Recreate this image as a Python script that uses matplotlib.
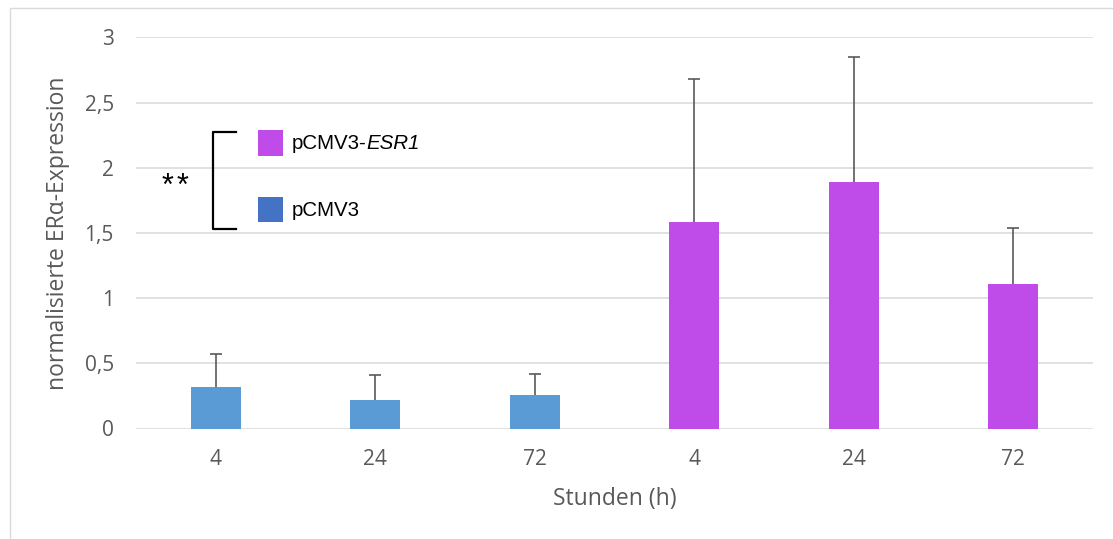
import matplotlib
matplotlib.use("Agg")
import matplotlib.pyplot as plt
from matplotlib.patches import Rectangle
from matplotlib.lines import Line2D

# Data
categories = ["4", "24", "72", "4", "24", "72"]
values = [0.32, 0.22, 0.26, 1.58, 1.89, 1.11]
errors = [0.25, 0.19, 0.16, 1.10, 0.96, 0.43]
groups = ["pCMV3", "pCMV3", "pCMV3", "pCMV3-ESR1", "pCMV3-ESR1", "pCMV3-ESR1"]
y_ticks = [0, 0.5, 1, 1.5, 2, 2.5, 3]
y_tick_labels = ["0", "0,5", "1", "1,5", "2", "2,5", "3"]

bar_colors = {"pCMV3": "#5B9BD5", "pCMV3-ESR1": "#BF4BE9"}
legend_colors = {"pCMV3": "#4472C4", "pCMV3-ESR1": "#BF4BE9"}
text_gray = "#595959"
grid_gray = "#D9D9D9"

W, H = 1113, 539
fig = plt.figure(figsize=(W / 100, H / 100), dpi=100)


def px(x, y):
    """Pixel position (from top-left) to figure fraction."""
    return x / W, 1 - y / H


AX_L, AX_R, AX_T, AX_B = 136, 1093, 37.3, 428.5
left, top = px(AX_L, AX_T)
right, bottom = px(AX_R, AX_B)
ax = fig.add_axes([left, bottom, right - left, top - bottom])

xs = list(range(len(values)))
ax.bar(xs, values, width=0.314, color=[bar_colors[g] for g in groups], zorder=3)
_, caps, _ = ax.errorbar(xs, values, yerr=[[0] * len(errors), errors], fmt="none",
                         ecolor="#5A5A5A", elinewidth=1.2, capsize=4.3, capthick=1.2,
                         zorder=4)
# only the upper caps are shown
caps[0].set_visible(False)

ax.set_xlim(-0.5, len(values) - 0.5)
ax.set_ylim(0, 3)
ax.set_yticks(y_ticks)
ax.set_yticklabels(y_tick_labels)
ax.set_xticks(xs)
ax.set_xticklabels(categories)
ax.yaxis.grid(True, color=grid_gray, linewidth=1.1, zorder=0)
ax.set_axisbelow(True)
for s in ax.spines.values():
    s.set_visible(False)
ax.tick_params(length=0, colors=text_gray, labelsize=15)
ax.tick_params(axis="y", pad=16)
ax.tick_params(axis="x", pad=15)
for lab in ax.get_xticklabels() + ax.get_yticklabels():
    lab.set_fontfamily("Open Sans")

ax_w, ax_h = AX_R - AX_L, AX_B - AX_T
ax.set_xlabel("Stunden (h)", fontsize=16.5, color=text_gray, family="Open Sans")
ax.xaxis.set_label_coords(0.5, -(487 - AX_B) / ax_h)
ax.set_ylabel("normalisierte ERα-Expression", fontsize=16.5, color=text_gray,
              family="Open Sans")
ax.yaxis.set_label_coords((70 - AX_L) / ax_w, 0.5)

# Outer chart frame
fig.patches.append(Rectangle(px(10, 560), 1.2, (560 - 8) / H, transform=fig.transFigure,
                             fill=False, edgecolor=grid_gray, linewidth=1.0, clip_on=False))

# Legend entries
for name, ycen in [("pCMV3-ESR1", 143), ("pCMV3", 210)]:
    x0, y0 = px(257.5, ycen + 12.5)
    fig.patches.append(Rectangle((x0, y0), 25 / W, 25 / H, transform=fig.transFigure,
                                 facecolor=legend_colors[name], edgecolor="none"))

fig.canvas.draw()
renderer = fig.canvas.get_renderer()
t1 = fig.text(*px(292, 149), "pCMV3-", fontsize=14.8, family="Liberation Sans",
              color="black", va="baseline")
bb = t1.get_window_extent(renderer)
fig.text(bb.x1 / W, 1 - 149 / H, "ESR1", fontsize=14.8, family="Liberation Sans",
         style="italic", color="black", va="baseline")
fig.text(*px(292, 216), "pCMV3", fontsize=14.8, family="Liberation Sans",
         color="black", va="baseline")

# Significance bracket with its two stars
bx = [236 / W, 213 / W, 213 / W, 236 / W]
by = [1 - 132 / H, 1 - 132 / H, 1 - 229 / H, 1 - 229 / H]
fig.lines.append(Line2D(bx, by, transform=fig.transFigure, color="black", linewidth=1.6))
for sx in (167.5, 182.5):
    fig.text(*px(sx, 195), "*", fontsize=22, family="Liberation Sans", color="black",
             ha="center", va="baseline")

fig.savefig("out.png", dpi=100)
